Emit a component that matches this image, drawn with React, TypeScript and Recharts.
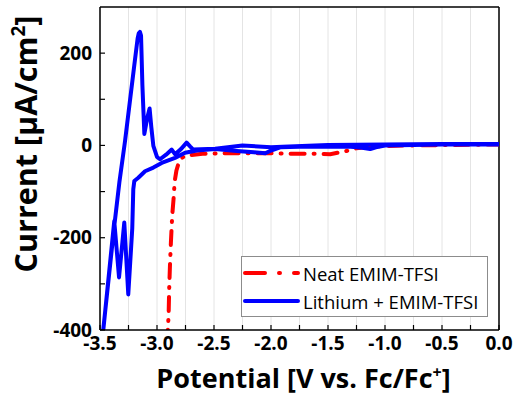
import {
  CartesianGrid,
  Legend,
  Line,
  LineChart,
  ReferenceLine,
  XAxis,
  YAxis,
} from "recharts";

const xTicks = [
  -3.5, -3.25, -3.0, -2.75, -2.5, -2.25, -2.0, -1.75, -1.5, -1.25, -1.0, -0.75,
  -0.5, -0.25, 0,
];
const yTicks = [-400, -300, -200, -100, 0, 100, 200];

// Neat EMIM-TFSI (red, dash-dot)
const neatPotential = [
  -2.912, -2.905, -2.898, -2.893, -2.886, -2.878, -2.866, -2.855, -2.845, -2.83,
  -2.81, -2.78, -2.75, -2.6, -2.4, -2.2, -2.0, -1.8, -1.6, -1.48, -1.4, -1.34,
  -1.25, -1.1, -0.8, -0.4, 0,
];
const neatCurrent = [
  -430, -400, -366, -310, -258, -210, -150, -117, -78, -55, -38, -27, -22, -18,
  -17, -17, -17, -18, -18, -19, -15, -12, -6, -2, 0, 1, 2,
];

// Lithium + EMIM-TFSI (blue), in sweep order: 0 V -> -3.5 V -> 0 V
const lithiumPotential = [
  0, -0.25, -0.5, -0.75, -1.0, -1.08, -1.13, -1.2, -1.3, -1.5, -1.75, -1.92,
  -2.0, -2.05, -2.15, -2.3, -2.49, -2.65, -2.754, -2.842, -2.959, -3.032,
  -3.105, -3.164, -3.199, -3.208, -3.217, -3.252, -3.287, -3.333, -3.375,
  -3.471, -3.5,
  -3.5, -3.375, -3.33, -3.28, -3.2, -3.17, -3.16, -3.15, -3.14, -3.128, -3.111,
  -3.085, -3.065, -3.05, -3.032, -3.0, -2.974, -2.92, -2.871, -2.842, -2.79,
  -2.74, -2.71, -2.682, -2.49, -2.25, -2.0, -1.9, -1.5, -1.0, -0.5, 0,
];
const lithiumCurrent = [
  2, 2, 2, 1, 0, -4, -8, -5, -3, -3, -3, -4,
  -11, -17, -15, -12, -8, -11, -16, -27, -38, -48,
  -56, -70, -77, -95, -180, -323, -167, -286, -164,
  -400, -465,
  -465, -175, -80, 10, 172, 232, 243, 246, 238, 130, 25,
  60, 80, 40, -1, -25, -30, -20, -9, -19, -8,
  6, -2, -9, -7, 0, -4, -3, 1, 2, 3, 3,
];

const seriesNames = ["Neat EMIM-TFSI", "Lithium + EMIM-TFSI"];
const seriesColors = ["#ff0000", "#0000ff"];

const neatData = neatPotential.map((p, i) => ({ potential: p, current: neatCurrent[i] }));
const lithiumData = lithiumPotential.map((p, i) => ({
  potential: p,
  current: lithiumCurrent[i],
}));

const FONT = "'Open Sans', 'DejaVu Sans', sans-serif";
const RED_DASH = "14 9 1 9";

const XTitle = ({ viewBox }: any) => {
  const cx = viewBox.x + viewBox.width / 2 + 4;
  return (
    <text
      x={cx}
      y={viewBox.y + 58}
      textAnchor="middle"
      fontFamily={FONT}
      fontWeight={700}
      fontSize={27}
      fill="#000"
    >
      Potential [V vs. Fc/Fc
      <tspan dy={-10} fontSize={16}>
        +
      </tspan>
      <tspan dy={10}>]</tspan>
    </text>
  );
};

const YTitle = () => {
  const x = 37;
  const y = 144;
  return (
    <text
      x={x}
      y={y}
      transform={`rotate(-90 ${x} ${y})`}
      textAnchor="middle"
      fontFamily={FONT}
      fontWeight={700}
      fontSize={30.5}
      fill="#000"
    >
      Current [μA/cm
      <tspan dy={-12} fontSize={19}>
        2
      </tspan>
      <tspan dy={12}>]</tspan>
    </text>
  );
};

const LegendBox = () => (
  <div
    style={{
      width: 245,
      height: 59,
      border: "1px solid #8c8c8c",
      background: "#fff",
      fontFamily: FONT,
      fontSize: 18.5,
      color: "#000",
    }}
  >
    {seriesNames.map((name, i) => (
      <div
        key={name}
        style={{ display: "flex", alignItems: "center", height: 28, marginTop: i === 0 ? 2 : 0 }}
      >
        <svg width={58} height={10} style={{ marginLeft: 0, marginRight: 3 }}>
          <line
            x1={3}
            y1={5}
            x2={56}
            y2={5}
            stroke={seriesColors[i]}
            strokeWidth={4}
            strokeLinecap="round"
            strokeDasharray={i === 0 ? "20 14 1 14" : undefined}
          />
        </svg>
        <span style={{ whiteSpace: "nowrap" }}>{name}</span>
      </div>
    ))}
  </div>
);

export default function App() {
  return (
    <div style={{ position: "absolute", left: 0, top: 0, background: "#fff" }}>
      <LineChart
        width={514}
        height={396}
        margin={{ top: 7, right: 15, bottom: 0, left: 0 }}
      >
        <CartesianGrid horizontal={false} stroke="#e4e4e4" strokeWidth={1} />
        <XAxis
          dataKey="potential"
          type="number"
          domain={[-3.5, 0]}
          ticks={xTicks}
          interval={0}
          allowDataOverflow
          height={66}
          tickSize={-5}
          tickMargin={12}
          tickFormatter={(v: number) =>
            Math.round(v * 100) % 50 === 0 ? v.toFixed(1) : ""
          }
          axisLine={{ stroke: "#000", strokeWidth: 1.5 }}
          tickLine={{ stroke: "#000", strokeWidth: 1.2 }}
          tick={{ fill: "#000", fontSize: 19, fontWeight: 700, fontFamily: FONT }}
          label={<XTitle />}
        />
        <YAxis
          type="number"
          domain={[-400, 300]}
          ticks={yTicks}
          interval={0}
          allowDataOverflow
          width={100}
          tickSize={-5}
          tickMargin={13}
          tickFormatter={(v: number) => (v % 200 === 0 ? String(v) : "")}
          axisLine={{ stroke: "#000", strokeWidth: 1.5 }}
          tickLine={{ stroke: "#000", strokeWidth: 1.2 }}
          tick={{ fill: "#000", fontSize: 19, fontWeight: 700, fontFamily: FONT }}
          label={<YTitle />}
        />
        <ReferenceLine y={300} stroke="#000" strokeWidth={1.5} />
        <ReferenceLine x={0} stroke="#000" strokeWidth={1.5} />
        <Legend
          layout="vertical"
          align="center"
          verticalAlign="middle"
          content={<LegendBox />}
          wrapperStyle={{ position: "absolute", left: 241, top: 256, width: 247 }}
        />
        <Line
          data={neatData}
          dataKey="current"
          name={seriesNames[0]}
          stroke={seriesColors[0]}
          strokeWidth={4}
          strokeDasharray={RED_DASH}
          strokeLinecap="round"
          dot={false}
          activeDot={false}
          isAnimationActive={false}
        />
        <Line
          data={lithiumData}
          dataKey="current"
          name={seriesNames[1]}
          stroke={seriesColors[1]}
          strokeWidth={4}
          strokeLinejoin="round"
          dot={false}
          activeDot={false}
          isAnimationActive={false}
        />
      </LineChart>
    </div>
  );
}
